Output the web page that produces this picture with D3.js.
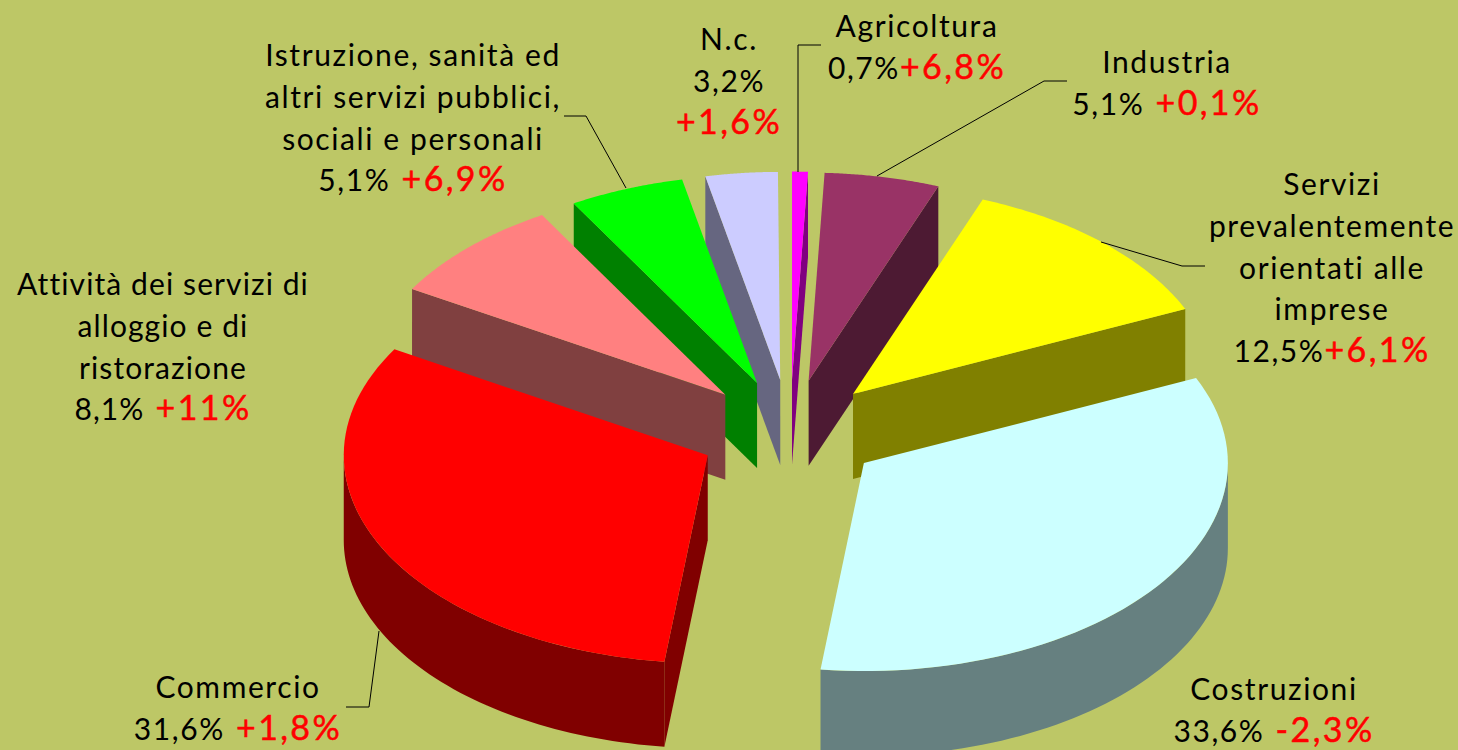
<!DOCTYPE html>
<html>
<head>
<meta charset="utf-8">
<script src="https://cdn.jsdelivr.net/npm/d3@7"></script>
<style>
    html, body { margin: 0; padding: 0; background: #bdc766; overflow: hidden; }
    svg { display: block; }
    text { font-family: "Lato", sans-serif; font-size: 30px; fill: #000; letter-spacing: 1.6px; }
    .delta { fill: #ff0000; stroke: #ff0000; stroke-width: 0.5px; font-size: 34px; letter-spacing: 2.4px; }
</style>
</head>
<body>
<script>
// Data, clockwise from 12 o'clock
const sectors = ['Agricoltura', 'Industria', 'Servizi', 'Costruzioni', 'Commercio', 'Attivita', 'Istruzione', 'N.c.'];
const shares = [0.7, 5.1, 12.5, 33.6, 31.6, 8.1, 5.1, 3.2];
const shareLabels = ['0,7%', '5,1%', '12,5%', '33,6%', '31,6%', '8,1%', '5,1%', '3,2%'];
const deltaLabels = ['+6,8%', '+0,1%', '+6,1%', '-2,3%', '+1,8%', '+11%', '+6,9%', '+1,6%'];
const nameLines = [
    ['Agricoltura'],
    ['Industria'],
    ['Servizi', 'prevalentemente', 'orientati alle', 'imprese'],
    ['Costruzioni'],
    ['Commercio'],
    ['Attività dei servizi di', 'alloggio e di', 'ristorazione'],
    ['Istruzione, sanità ed', 'altri servizi pubblici,', 'sociali e personali'],
    ['N.c.']
];
const topColors = ['#ff00ff', '#993366', '#ffff00', '#ccffff', '#ff0000', '#ff8080', '#00ff00', '#ccccff'];
const sideColors = ['#800080', '#4d1a33', '#808000', '#668080', '#800000', '#804040', '#008000', '#666680'];

// Layout of the labels: centre x, first baseline, line pitch, gap before the delta
const labelX = [917, 1167, 1332, 1274, 238, 163, 413, 729];
const labelY = [37, 73, 195, 700, 698, 295, 66, 50];
const labelTracking = [1.6, 1.6, 1.6, 1.6, 1.6, 1.1, 1.6, 1.6];
const deltaStacked = [false, false, false, false, false, false, false, true];
const linePitch = 41.8;

// Leader lines, label end to slice rim
const leaders = [
    [[821, 45], [798, 45], [798, 172]],
    [[1067, 81], [1044, 81], [877, 176]],
    [[1205, 266], [1182, 266], [1101, 242]],
    [[346, 707], [369, 707], [379, 631]],
    [[564, 116], [586, 116], [626, 188]]
];

const width = 1458, height = 750;
const cx = 790, cy = 432, rx = 364, ry = 208, depth = 85;
const explode = 0.252;

const svg = d3.select('body').append('svg')
    .attr('width', width)
    .attr('height', height)
    .attr('viewBox', `0 0 ${width} ${height}`);

svg.append('rect').attr('width', width).attr('height', height).attr('fill', '#bdc766');

// Tilted disc: unit coordinates on the pie plane to screen
const x = d3.scaleLinear().domain([-1, 1]).range([cx - rx, cx + rx]);
const y = d3.scaleLinear().domain([-1, 1]).range([cy + ry, cy - ry]);

// shares are plain percentages and add up to 99.9
const pie = d3.pie().sort(null).value(d => d)
    .startAngle(0).endAngle(2 * Math.PI * d3.sum(shares) / 100);

const slices = pie(shares).map((d, i) => {
    const mid = (d.startAngle + d.endAngle) / 2;
    return {
        i,
        a0: d.startAngle,
        a1: d.endAngle,
        mid,
        ox: explode * Math.sin(mid),
        oy: explode * Math.cos(mid)
    };
});

// back to front
slices.sort((a, b) => Math.cos(b.mid) - Math.cos(a.mid));

const line = d3.line().curve(d3.curveLinear);

function apex(s, drop = 0) {
    return [x(s.ox), y(s.oy) + drop];
}

function rim(s, a, drop = 0) {
    return [x(s.ox + Math.sin(a)), y(s.oy + Math.cos(a)) + drop];
}

function arcPoints(s, a0, a1, drop = 0) {
    return d3.range(0, 61).map(k => rim(s, a0 + (a1 - a0) * k / 60, drop));
}

const pieG = svg.append('g');

slices.forEach(s => {
    const g = pieG.append('g').attr('class', 'slice');
    const side = sideColors[s.i];

    // radial walls, only the ones that face the viewer
    if (Math.sin(s.a0) < 0) {
        g.append('path')
            .attr('d', line([apex(s), rim(s, s.a0), rim(s, s.a0, depth), apex(s, depth)]) + 'Z')
            .attr('fill', side);
    }
    if (Math.sin(s.a1) > 0) {
        g.append('path')
            .attr('d', line([apex(s), rim(s, s.a1), rim(s, s.a1, depth), apex(s, depth)]) + 'Z')
            .attr('fill', side);
    }

    // outer wall, front half of the disc only
    const w0 = Math.max(s.a0, Math.PI / 2);
    const w1 = Math.min(s.a1, 3 * Math.PI / 2);
    if (w1 > w0) {
        const pts = arcPoints(s, w0, w1).concat(arcPoints(s, w1, w0, depth));
        g.append('path').attr('d', line(pts) + 'Z').attr('fill', side);
    }

    // top face
    g.append('path')
        .attr('d', line([apex(s)].concat(arcPoints(s, s.a0, s.a1))) + 'Z')
        .attr('fill', topColors[s.i]);
});

// Leaders
svg.append('g').selectAll('path')
    .data(leaders)
    .join('path')
    .attr('d', d => line(d))
    .attr('fill', 'none')
    .attr('stroke', '#000')
    .attr('stroke-width', 1);

// Labels
sectors.forEach((name, i) => {
    const t = svg.append('text')
        .attr('text-anchor', 'middle')
        .attr('x', labelX[i])
        .attr('y', labelY[i])
        .style('letter-spacing', labelTracking[i] + 'px');

    nameLines[i].forEach((txt, k) => {
        t.append('tspan').attr('x', labelX[i]).attr('dy', k ? linePitch : 0).text(txt);
    });

    t.append('tspan').attr('x', labelX[i]).attr('dy', linePitch).text(shareLabels[i]);
    const delta = t.append('tspan').attr('class', 'delta');
    if (deltaStacked[i]) {
        delta.attr('x', labelX[i]).attr('dy', linePitch).text(deltaLabels[i]);
    } else {
        // a few labels have no blank between share and delta
        const tight = shareLabels[i] === '0,7%' || shareLabels[i] === '12,5%';
        delta.text((tight ? '' : ' ') + deltaLabels[i]);
    }
});
</script>
</body>
</html>
